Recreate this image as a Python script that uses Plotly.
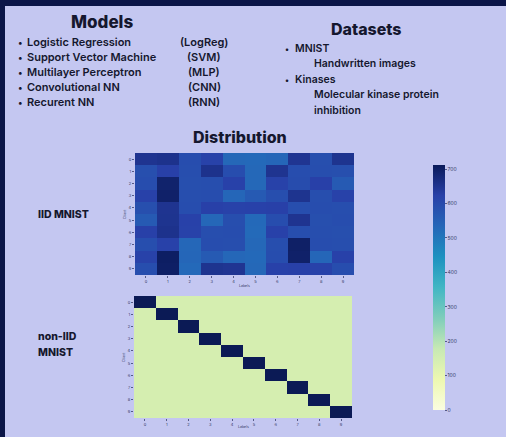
import plotly.graph_objects as go

# ---------------- data ----------------
models = ["Logistic Regression", "Support Vector Machine", "Multilayer Perceptron",
          "Convolutional NN", "Recurent NN"]
model_abbr = ["(LogReg)", "(SVM)", "(MLP)", "(CNN)", "(RNN)"]
datasets = ["MNIST", "Kinases"]
dataset_desc = [["Handwritten images"], ["Molecular kinase protein", "inhibition"]]

labels = [str(i) for i in range(10)]
clients = [str(i) for i in range(10)]

# IID MNIST: samples per (client, label)
iid_counts = [
    [650, 655, 592, 618, 530, 528, 535, 648, 588, 652],
    [588, 622, 590, 655, 592, 530, 650, 592, 590, 588],
    [592, 692, 588, 590, 620, 530, 618, 594, 622, 562],
    [620, 695, 590, 592, 535, 562, 590, 652, 590, 618],
    [588, 650, 592, 622, 618, 620, 622, 590, 592, 590],
    [562, 652, 620, 532, 590, 528, 592, 650, 588, 592],
    [622, 655, 618, 590, 592, 526, 620, 590, 590, 588],
    [590, 620, 532, 592, 590, 530, 590, 698, 592, 590],
    [618, 702, 535, 562, 532, 528, 592, 695, 535, 620],
    [590, 700, 528, 652, 648, 530, 620, 622, 618, 592],
]

# non-IID MNIST: every client holds a single label
noniid_diag = [5923, 6742, 5958, 6131, 5842, 5421, 5918, 6265, 5851, 5949]
noniid_counts = [[noniid_diag[i] if i == j else 0 for j in range(10)] for i in range(10)]

cb_ticks = [0, 100, 200, 300, 400, 500, 600, 700]

# ---------------- figure ----------------
W, H = 506, 437
BG = "#c4c7f1"
NAVY = "#0b1548"
FONT = "Inter"
TXT = "#15172e"

# YlGnBu, with the top end nudged toward the royal blue seen in the picture
SCALE = [[0.0, "#fbfde0"], [0.125, "#edf8b1"], [0.25, "#c7e9b4"], [0.375, "#7fcdbb"],
         [0.5, "#41b6c4"], [0.625, "#1d91c0"], [0.75, "#2566b8"], [0.875, "#2840a8"],
         [1.0, "#0a1a5a"]]

def px(x):
    return x / W

def py(y):
    return 1 - y / H

fig = go.Figure()

fig.add_trace(go.Heatmap(
    z=iid_counts, x=labels, y=clients, coloraxis="coloraxis",
    xaxis="x", yaxis="y"))
fig.add_trace(go.Heatmap(
    z=noniid_counts, x=labels, y=clients, coloraxis="coloraxis2",
    xaxis="x2", yaxis="y2"))

tickfont = dict(size=4, color="#333a66", family=FONT)
axcommon = dict(showgrid=False, zeroline=False, showline=False, ticks="outside",
                ticklen=2, tickcolor="#555a88", tickfont=tickfont)

fig.update_layout(
    width=W, height=H,
    margin=dict(l=0, r=0, t=0, b=0),
    paper_bgcolor=BG, plot_bgcolor=BG,
    showlegend=False,
    xaxis=dict(domain=[px(135), px(354)], anchor="y", **axcommon),
    yaxis=dict(domain=[py(275), py(153)], anchor="x", autorange="reversed", **axcommon),
    xaxis2=dict(domain=[px(134), px(352)], anchor="y2", **axcommon),
    yaxis2=dict(domain=[py(418), py(296)], anchor="x2", autorange="reversed", **axcommon),
    coloraxis=dict(
        colorscale=SCALE, cmin=0, cmax=712,
        colorbar=dict(x=px(433), xanchor="left", xpad=0, y=py(287.5), yanchor="middle",
                      ypad=0, len=245 / H, lenmode="fraction", thickness=12, outlinewidth=0,
                      tickvals=cb_ticks, ticks="outside", ticklen=2,
                      tickcolor="#555a88",
                      tickfont=dict(size=5, color="#333a66", family=FONT))),
    coloraxis2=dict(colorscale=[[0, "#d5eeb0"], [0.75, "#0b1a55"], [1, "#0b1a55"]],
                    cmin=0, cmax=max(noniid_diag), showscale=False),
)

# frame: dark top band and left border
fig.add_shape(type="rect", xref="paper", yref="paper", x0=0, x1=1, y0=py(6), y1=1,
              fillcolor=NAVY, line_width=0, layer="above")
fig.add_shape(type="rect", xref="paper", yref="paper", x0=0, x1=px(5), y0=0, y1=1,
              fillcolor=NAVY, line_width=0, layer="above")

def text(x, y, s, size, weight=600, anchor="left", color=TXT, angle=0):
    fig.add_annotation(x=px(x), y=py(y), xref="paper", yref="paper",
                       text=s, showarrow=False, textangle=angle,
                       xanchor=anchor, yanchor="middle", borderpad=0,
                       font=dict(family=FONT, size=size, color=color, weight=weight))

# axis titles (tiny)
text(244, 286, "Labels", 3.5, weight=400, anchor="center", color="#333a66")
text(243, 427, "Labels", 3.5, weight=400, anchor="center", color="#333a66")
text(125, 214, "Client", 3.5, weight=400, anchor="center", color="#333a66", angle=-90)
text(124, 357, "Client", 3.5, weight=400, anchor="center", color="#333a66", angle=-90)

# Models
text(102, 22, "Models", 17, weight=800, anchor="center")
for i, (m, a) in enumerate(zip(models, model_abbr)):
    yy = 42 + 15 * i
    text(17, yy, "•", 9)
    text(26, yy, m, 11)
    text(204, yy, a, 11, anchor="center")

# Datasets
text(366, 29, "Datasets", 16, weight=800, anchor="center")
yy = 49
for d, desc in zip(datasets, dataset_desc):
    text(284, yy, "•", 8)
    text(294, yy, d, 10.5)
    yy += 15
    for line in desc:
        text(313, yy, line, 10.5)
        yy += 15
    yy += 1

# Distribution
text(240, 137, "Distribution", 16, weight=800, anchor="center")
text(37, 214, "IID MNIST", 10.5, weight=800)
text(37, 336, "non-IID", 10.5, weight=800)
text(37, 352, "MNIST", 10.5, weight=800)

fig.write_html("out.html",
               config={"displayModeBar": False},
               post_script="document.body.style.margin='0';document.body.style.padding='0';")
